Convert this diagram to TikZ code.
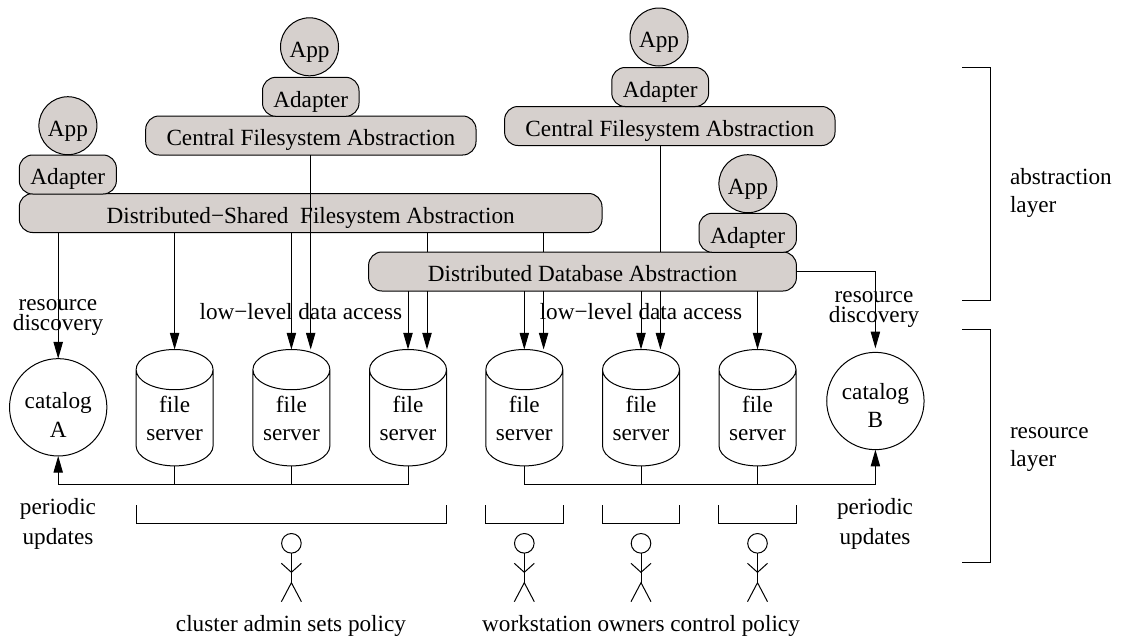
\documentclass[tikz,border=0pt]{standalone}
\usepackage{fontspec}
\setmainfont{Liberation Serif}
\usetikzlibrary{arrows.meta,shapes.geometric,calc}
\definecolor{boxfill}{HTML}{D6D0CD}
\newcommand{\lift}[1]{\rule{0pt}{#1}}
\tikzset{
  x=0.75pt,y=-0.75pt,
  every node/.style={font=\fontsize{17.4}{21.5}\selectfont,inner sep=0pt,outer sep=0pt},
  every path/.style={line width=0.75pt},
  lbl/.style={align=center,font=\fontsize{17.4}{22}\selectfont},
  lftlbl/.style={align=left,anchor=west},
  oneline/.style={anchor=base},
  tight/.style={align=center,font=\fontsize{17.4}{15}\selectfont},
  conn/.style={draw=black},
  arr/.style={conn,-{Triangle[length=12.5pt,width=7pt]}},
  appc/.style={circle,draw=black,fill=boxfill,minimum size=43.5pt,text height=16pt,text depth=0pt},
  rbox/.style={rectangle,rounded corners=10pt,draw=black,fill=boxfill,minimum height=29.25pt,text height=15.4pt,text depth=0pt},
  catalog/.style={circle,draw=black,minimum size=73pt,align=center},
  fserver/.style={cylinder,shape border rotate=90,draw=black,aspect=0.71,minimum width=57.75pt,minimum height=87.3pt,align=center,font=\fontsize{17.4}{20.5}\selectfont},
  brk/.style={draw=black},
}
\newcommand{\bx}[5]{\node[rbox,minimum width=#4*0.75pt-#3*0.75pt,anchor=center] (#1) at ({(#3+#4)/2},#2) {#5};}
\newcommand{\person}[2]{%
  \node[circle,draw=black,minimum size=14.7pt] (#1h) at (#2,543.3) {};
  \coordinate (#1c) at (#2,582.7);
  \coordinate (#1a) at (#2,572.3);
  \draw (#1h.south) -- (#1c);
  \draw ($(#1a)+(-10,-9)$) -- (#1a) -- ($(#1a)+(10,-9)$);
  \draw ($(#1c)+(-10,19)$) -- (#1c) -- ($(#1c)+(10,19)$);
}
\newcommand{\bracketu}[3]{\coordinate (#1a) at (#2,505); \coordinate (#1b) at (#3,505);
  \draw[brk] (#1a) -- ++(0,18.7) -| (#1b);}
\begin{document}
\begin{tikzpicture}
\useasboundingbox (0,0) rectangle (1126,637);
% boxes
\bx{dbox}{271.5}{368.6}{796.4}{Distributed Database Abstraction}
\bx{dsbox}{213}{19.3}{602}{Distributed−Shared\ \ Filesystem Abstraction}
\bx{cfa}{135.5}{145.7}{476}{Central Filesystem Abstraction}
\bx{cfb}{126}{504.6}{835}{Central Filesystem Abstraction}
\bx{ad1}{174.5}{19.3}{116.4}{Adapter}
\bx{ad2}{96.8}{262.5}{359}{Adapter}
\bx{ad3}{87}{611.8}{708.6}{Adapter}
\bx{ad4}{232.8}{699}{796.4}{Adapter}
\node[appc] (app1) at (67.9,125.7) {App};
\node[appc] (app2) at (309.5,46.8) {App};
\node[appc] (app3) at (659,37) {App};
\node[appc] (app4) at (747.9,183.7) {App};
% servers
\foreach \n/\x in {fa/174.6,fb/291.4,fc/408,fd/524.3,fe/641,ff/757.5}{
  \node[fserver] (\n) at (\x,418) {\lift{13pt}file\\server};
}
\node[catalog] (cata) at (58.2,407.3) {\lift{24pt}catalog\\A};
\node[catalog] (catb) at (875.4,401) {\lift{19pt}catalog\\B};
% x positions of the second arrows
\coordinate (xb) at (310.7,0);
\coordinate (xc) at (427,0);
\coordinate (xd) at (543.6,0);
\coordinate (xe) at (660.4,0);
% connectors
\draw[arr] (cata.north |- dsbox.south) -- (cata.north);
\draw[arr] (fa.north |- dsbox.south) -- (fa.north);
\draw[arr] (fb.north |- dsbox.south) -- (fb.north);
\draw[arr] (xb |- cfa.south) -- (xb |- fb.north);
\draw[conn] (xc |- dsbox.south) -- (xc |- dbox.north);
\draw[conn] (xd |- dsbox.south) -- (xd |- dbox.north);
\draw[arr] (fc.north |- dbox.south) -- (fc.north);
\draw[arr] (xc |- dbox.south) -- (xc |- fc.north);
\draw[arr] (fd.north |- dbox.south) -- (fd.north);
\draw[arr] (xd |- dbox.south) -- (xd |- fd.north);
\draw[arr] (fe.north |- dbox.south) -- (fe.north);
\draw[arr] (xe |- dbox.south) -- (xe |- fe.north);
\draw[arr] (ff.north |- dbox.south) -- (ff.north);
\draw[conn] (xe |- cfb.south) -- (xe |- dbox.north);
\draw[arr,shorten >=3pt] (dbox.east) -| (catb.north);
% buses
\coordinate (busa) at (58.2,484.7);
\coordinate (busb) at (875.4,484.7);
\draw[arr] (fc.south) |- (busa) -- (cata.south);
\draw[conn] (fa.south) -- (fa.south |- busa);
\draw[conn] (fb.south) -- (fb.south |- busa);
\draw[arr] (fd.south) |- (busb) -- (catb.south);
\draw[conn] (fe.south) -- (fe.south |- busb);
\draw[conn] (ff.south) -- (ff.south |- busb);
% brackets
\bracketu{ba}{136}{446.8}
\bracketu{bb}{485.7}{563.2}
\bracketu{bc}{602}{679.6}
\bracketu{bd}{718.6}{796.4}
\person{pa}{291.4}
\person{pb}{524.3}
\person{pc}{641}
\person{pd}{757.5}
% layer brackets
\coordinate (la1) at (962,67.5);
\coordinate (la2) at (962,300);
\coordinate (lb1) at (962,329.3);
\coordinate (lb2) at (962,562.7);
\draw (la1) -- ++(28.4,0) |- (la2);
\draw (lb1) -- ++(28.4,0) |- (lb2);
% labels
\node[lftlbl] (l1) at (1010,193) {abstraction\\layer};
\node[lftlbl] (l2) at (1010,449.5) {resource\\layer};
\node[tight] (rd1) at (58,318) {resource\\discovery};
\node[tight] (rd2) at (874,309.5) {resource\\discovery};
\node[oneline] (ll1) at (300.8,319) {low−level data access};
\node[oneline] (ll2) at (641,319) {low−level data access};
\node[lbl] (pu1) at (58,524) {periodic\\updates};
\node[lbl] (pu2) at (875,524) {periodic\\updates};
\node[oneline] (c1) at (291,631) {cluster admin sets policy};
\node[oneline] (c2) at (641,631) {workstation owners control policy};
\end{tikzpicture}
\end{document}
